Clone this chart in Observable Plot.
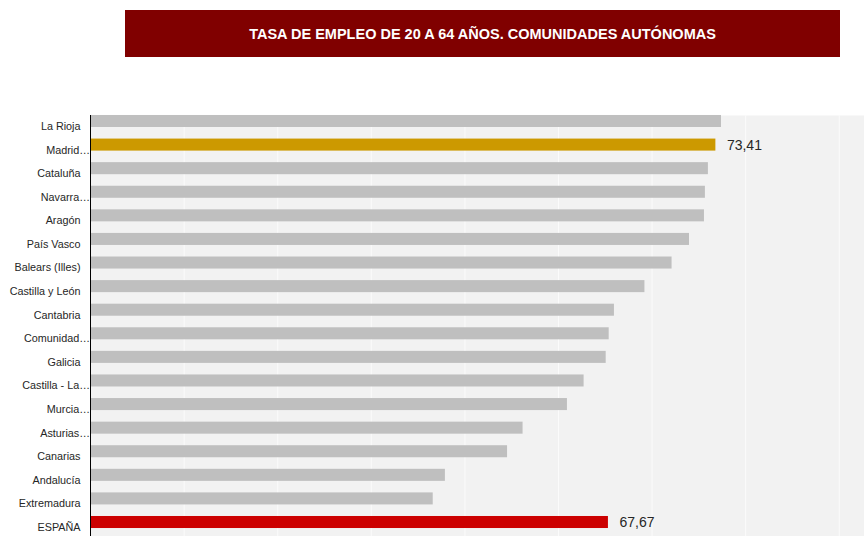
<!DOCTYPE html>
<html>
<head>
<meta charset="utf-8">
<script src="https://cdn.jsdelivr.net/npm/d3@7"></script>
<script src="https://cdn.jsdelivr.net/npm/@observablehq/plot@0.6"></script>
<style>
  html, body { margin: 0; padding: 0; background: #fff; }
  body { width: 864px; height: 536px; overflow: hidden; font-family: "Liberation Sans", Arial, sans-serif; }
  #head { position: relative; height: 100px; }
  #title {
    position: absolute; left: 125px; top: 10px; width: 715px; height: 47px;
    background: #800000; color: #fff; font-weight: bold; font-size: 14.5px;
    display: flex; align-items: center; justify-content: center; letter-spacing: 0;
    padding-top: 1px; box-sizing: border-box;
  }
  #chart svg { display: block; }
</style>
</head>
<body>
<div id="head"><div id="title">TASA DE EMPLEO DE 20 A 64 AÑOS. COMUNIDADES AUTÓNOMAS</div></div>
<div id="chart"></div>
<script>
const categories = [
  "La Rioja", "Madrid (Comunidad de)", "Cataluña", "Navarra (Comunidad Foral de)", "Aragón",
  "País Vasco", "Balears (Illes)", "Castilla y León", "Cantabria", "Comunidad Valenciana",
  "Galicia", "Castilla - La Mancha", "Murcia (Región de)", "Asturias (Principado de)",
  "Canarias", "Andalucía", "Extremadura", "ESPAÑA"
];
const tickLabels = [
  "La Rioja", "Madrid…", "Cataluña", "Navarra…", "Aragón",
  "País Vasco", "Balears (Illes)", "Castilla y León", "Cantabria", "Comunidad…",
  "Galicia", "Castilla - La…", "Murcia…", "Asturias…",
  "Canarias", "Andalucía", "Extremadura", "ESPAÑA"
];
const values = [
  73.71, 73.41, 73.01, 72.85, 72.80,
  72.00, 71.07, 69.62, 67.99, 67.71,
  67.55, 66.37, 65.48, 63.11,
  62.28, 58.96, 58.31, 67.67
];
const valueLabels = ["", "73,41", "", "", "", "", "", "", "", "", "", "", "", "", "", "", "", "67,67"];
const xMin = 40, xMax = 81.35;
const gridTicks = [45, 50, 55, 60, 65, 70, 75, 80];

const rows = categories.map((name, i) => ({
  name, label: tickLabels[i], value: values[i], valueLabel: valueLabels[i],
  truncated: tickLabels[i].endsWith("…")
}));

const colorFor = d => d.name === "ESPAÑA" ? "#cc0000" : d.name.startsWith("Madrid") ? "#cc9900" : "#bfbfbf";

const chart = Plot.plot({
  width: 864,
  height: 436,
  marginLeft: 90,
  marginRight: 0,
  marginTop: 15,
  marginBottom: 0,
  style: { fontFamily: "'Liberation Sans', Arial, sans-serif", background: "#fff" },
  x: { domain: [xMin, xMax], axis: null },
  y: { domain: categories, range: [9.2, 433.8], paddingInner: 0.49, paddingOuter: 0.245, round: false, axis: null },
  marks: [
    Plot.frame({ fill: "#f2f2f2", stroke: "none" }),
    Plot.ruleX(gridTicks, { stroke: "#fbfbfb", strokeWidth: 1 }),
    Plot.barX(rows, { x1: xMin, x2: "value", y: "name", fill: colorFor }),
    Plot.ruleX([xMin], { stroke: "#000", strokeWidth: 1 }),
    Plot.text(rows.filter(d => !d.truncated), {
      x: xMin, y: "name", text: "label", textAnchor: "end", dx: -10, dy: 5,
      fontSize: 10.8, fill: "#262626"
    }),
    Plot.text(rows.filter(d => d.truncated), {
      x: xMin, y: "name", text: "label", textAnchor: "end", dx: -0.5, dy: 5,
      fontSize: 10.8, fill: "#262626"
    }),
    Plot.text(rows.filter(d => d.valueLabel), {
      x: "value", y: "name", text: "valueLabel", textAnchor: "start", dx: 11,
      fontSize: 14, fill: "#262626"
    })
  ]
});
document.getElementById("chart").appendChild(chart);
</script>
</body>
</html>
